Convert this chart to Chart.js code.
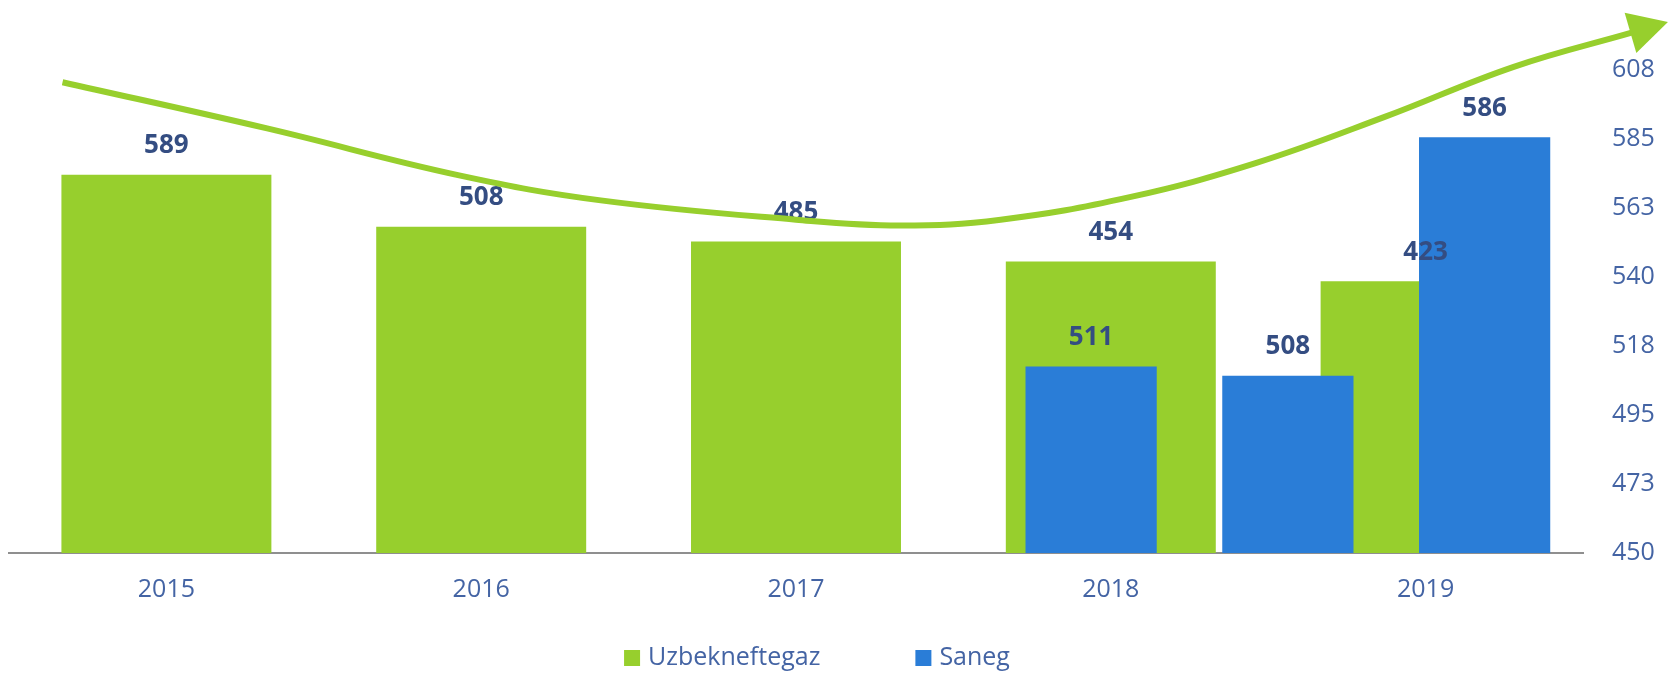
<!DOCTYPE html>
<html>
<head>
<meta charset="utf-8">
<script src="https://cdn.jsdelivr.net/npm/chart.js@4.4.1/dist/chart.umd.min.js"></script>
<style>
  html, body { margin: 0; padding: 0; background: #ffffff; }
  #wrap { width: 1672px; height: 673px; position: relative; }
</style>
</head>
<body>
<div id="wrap"><canvas id="c"></canvas></div>
<script>
// ---- data ----
const years = ['2015', '2016', '2017', '2018', '2019'];
const uzbekneftegazValues = [589, 508, 485, 454, 423];
const sanegSlots = ['1', '2', '3', '4', '5', '6', '7', '8'];
const sanegValues = [null, null, null, null, null, 511, 508, 586];
const rightTickLabels = ['450', '473', '495', '518', '540', '563', '585', '608'];
const rightMin = 450;
const rightMax = 608;
const leftMax = 752;
// trend arrow, in year-index units (x) and left-axis units (y)
const trendX = [-0.33, 0.32, 0.93, 1.38, 2.0, 2.33, 2.65, 3.06, 3.46, 3.87, 4.28, 4.66];
const trendY = [733, 661, 588, 549, 519, 510, 519, 554, 607, 679, 757, 811];

// ---- styles ----
const GREEN = '#97cf2d';
const BLUE = '#2a7dd7';
const TICK_COLOR = '#4464a4';
const LABEL_COLOR = '#344d82';
const FONT = "'Open Sans', sans-serif";

const barLabels = {
  id: 'barLabels',
  afterDatasetDraw(chart, args) {
    if (args.index !== 1) return;
    const ctx = chart.ctx;
    ctx.save();
    ctx.font = 'bold 26px ' + FONT;
    ctx.fillStyle = LABEL_COLOR;
    ctx.textAlign = 'center';
    ctx.textBaseline = 'middle';
    [0, 1].forEach(di => {
      const meta = chart.getDatasetMeta(di);
      const data = chart.data.datasets[di].data;
      meta.data.forEach((bar, i) => {
        if (data[i] === null || data[i] === undefined) return;
        ctx.fillText(String(data[i]), bar.x, bar.y - 29);
      });
    });
    ctx.restore();
  }
};

const arrowHead = {
  id: 'arrowHead',
  afterDatasetDraw(chart, args) {
    if (args.index !== 2) return;
    const pts = args.meta.data;
    const p = pts[pts.length - 1];
    const q = pts[pts.length - 2];
    let dx = p.x - q.x, dy = p.y - q.y;
    const len = Math.hypot(dx, dy);
    dx /= len; dy /= len;
    const L = 36, W = 21;
    const ctx = chart.ctx;
    ctx.save();
    ctx.fillStyle = GREEN;
    ctx.beginPath();
    ctx.moveTo(p.x + dx * L, p.y + dy * L);
    ctx.lineTo(p.x - dy * W - dx * 3, p.y + dx * W - dy * 3);
    ctx.lineTo(p.x + dy * W - dx * 3, p.y - dx * W - dy * 3);
    ctx.closePath();
    ctx.fill();
    ctx.restore();
  }
};

const customLegend = {
  id: 'customLegend',
  afterDraw(chart) {
    const ctx = chart.ctx;
    const items = [0, 1].map(i => ({
      text: chart.data.datasets[i].label,
      color: chart.data.datasets[i].backgroundColor
    }));
    ctx.save();
    ctx.font = '25px ' + FONT;
    const box = 16, gap = 8, spacing = 95;
    let total = 0;
    items.forEach((it, i) => {
      it.w = ctx.measureText(it.text).width;
      total += box + gap + it.w + (i < items.length - 1 ? spacing : 0);
    });
    const cx = (chart.chartArea.left + chart.chartArea.right) / 2 + 21;
    let x = cx - total / 2;
    const y = 658;
    ctx.textAlign = 'left';
    ctx.textBaseline = 'middle';
    items.forEach(it => {
      ctx.fillStyle = it.color;
      ctx.fillRect(x, y - box / 2, box, box);
      x += box + gap;
      ctx.fillStyle = TICK_COLOR;
      ctx.fillText(it.text, x, y);
      x += it.w + spacing;
    });
    ctx.restore();
  }
};

new Chart(document.getElementById('c'), {
  type: 'bar',
  data: {
    labels: years,
    datasets: [
      {
        label: 'Uzbekneftegaz',
        data: uzbekneftegazValues,
        backgroundColor: GREEN,
        xAxisID: 'x',
        yAxisID: 'y',
        grouped: false,
        categoryPercentage: 1,
        barPercentage: 0.667,
        order: 3
      },
      {
        label: 'Saneg',
        data: sanegValues,
        backgroundColor: BLUE,
        xAxisID: 'x2',
        yAxisID: 'y2',
        grouped: false,
        categoryPercentage: 1,
        barPercentage: 0.667,
        order: 2
      },
      {
        type: 'line',
        label: 'trend',
        data: trendX.map((v, i) => ({ x: v, y: trendY[i] })),
        xAxisID: 'xt',
        yAxisID: 'y',
        borderColor: GREEN,
        borderWidth: 6,
        pointRadius: 0,
        tension: 0.4,
        fill: false,
        clip: false,
        order: 1
      }
    ]
  },
  options: {
    responsive: true,
    maintainAspectRatio: false,
    animation: false,
    layout: { padding: { left: 9, top: 70, right: 0, bottom: 46 } },
    plugins: {
      legend: { display: false },
      tooltip: { enabled: false }
    },
    scales: {
      x: {
        type: 'category',
        position: 'bottom',
        offset: true,
        grid: { display: false, drawTicks: false },
        border: { display: true, color: '#8f8f8f', width: 2 },
        ticks: { color: TICK_COLOR, font: { family: FONT, size: 25 }, padding: 22, maxRotation: 0 }
      },
      x2: {
        type: 'category',
        labels: sanegSlots,
        position: 'bottom',
        offset: true,
        display: false,
        grid: { display: false }
      },
      xt: {
        type: 'linear',
        position: 'bottom',
        display: false,
        offset: false,
        grid: { offset: false },
        min: -0.5,
        max: 4.5
      },
      y: {
        type: 'linear',
        position: 'left',
        display: false,
        min: 0,
        max: leftMax
      },
      y2: {
        type: 'linear',
        position: 'right',
        min: rightMin,
        max: rightMax,
        grid: { display: false, drawTicks: false },
        border: { display: false },
        afterBuildTicks(scale) {
          const n = rightTickLabels.length;
          scale.ticks = rightTickLabels.map((t, i) => ({ value: rightMin + i * (rightMax - rightMin) / (n - 1) }));
        },
        afterFit(scale) { scale.width = 89; },
        ticks: {
          color: TICK_COLOR,
          font: { family: FONT, size: 25 },
          padding: 29,
          callback: (v, i) => rightTickLabels[i]
        }
      }
    }
  },
  plugins: [barLabels, arrowHead, customLegend]
});
</script>
</body>
</html>
